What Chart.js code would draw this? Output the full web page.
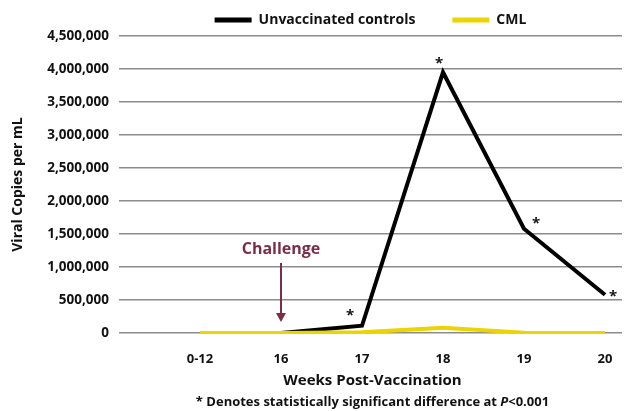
<!DOCTYPE html>
<html>
<head>
<meta charset="utf-8">
<script src="https://cdn.jsdelivr.net/npm/chart.js@4.4.1/dist/chart.umd.min.js"></script>
<style>
  html, body { margin: 0; padding: 0; background: #fff; }
  #wrap { width: 624px; height: 411px; }
</style>
</head>
<body>
<div id="wrap"><canvas id="chart" width="624" height="411"></canvas></div>
<script>
const weekLabels = ['0-12', '16', '17', '18', '19', '20'];
const controlValues = [0, 0, 110000, 3950000, 1580000, 580000];
const cmlValues = [0, 0, 10000, 80000, 5000, 0];
const yTicks = [0, 500000, 1000000, 1500000, 2000000, 2500000, 3000000, 3500000, 4000000, 4500000];
const starIndexes = [2, 3, 4, 5]; // points marked with an asterisk

const FONT = "'Open Sans', sans-serif";
const BLACK = '#000000';
const YELLOW = '#ebd400';
const MAROON = '#7a2d48';

// draws the legend, asterisks, challenge arrow and bottom titles
const extras = {
    id: 'extras',
    afterDraw(chart) {
        const ctx = chart.ctx;
        const area = chart.chartArea;
        const xs = chart.scales.x;
        const ys = chart.scales.y;
        const midX = (area.left + area.right) / 2;
        ctx.save();

        // legend
        ctx.font = 'bold 14px ' + FONT;
        ctx.textBaseline = 'middle';
        ctx.textAlign = 'left';
        const sets = chart.data.datasets;
        const boxW = 37, gap = 7, itemGap = 37;
        let total = 0;
        sets.forEach((ds, i) => {
            total += boxW + gap + ctx.measureText(ds.label).width;
            if (i < sets.length - 1) total += itemGap;
        });
        let lx = midX - total / 2;
        const ly = 20;
        sets.forEach(ds => {
            ctx.fillStyle = ds.borderColor;
            ctx.fillRect(lx, ly - 2.5, boxW, 5);
            lx += boxW + gap;
            ctx.fillStyle = '#111';
            ctx.fillText(ds.label, lx, ly);
            lx += ctx.measureText(ds.label).width + itemGap;
        });

        // asterisks
        const offsets = { 2: [-12, -14], 3: [-4, -12], 4: [12, -9], 5: [8, -2] };
        const meta = chart.getDatasetMeta(0);
        ctx.font = 'bold 15px ' + FONT;
        ctx.textAlign = 'center';
        ctx.textBaseline = 'alphabetic';
        ctx.fillStyle = '#111';
        starIndexes.forEach(i => {
            const p = meta.data[i];
            const [dx, dy] = offsets[i];
            ctx.fillText('*', p.x + dx, p.y + dy + 8);
        });

        // challenge arrow at week 16
        const cx = xs.getPixelForValue(1);
        const base = ys.getPixelForValue(0);
        ctx.fillStyle = MAROON;
        ctx.strokeStyle = MAROON;
        ctx.font = 'bold 16px ' + FONT;
        ctx.textBaseline = 'middle';
        ctx.fillText('Challenge', cx, base - 84);
        ctx.lineWidth = 2;
        ctx.beginPath();
        ctx.moveTo(cx, base - 70);
        ctx.lineTo(cx, base - 18);
        ctx.stroke();
        ctx.beginPath();
        ctx.moveTo(cx - 5, base - 20);
        ctx.lineTo(cx + 5, base - 20);
        ctx.lineTo(cx, base - 11);
        ctx.closePath();
        ctx.fill();

        // x title and footnote
        ctx.fillStyle = '#111';
        ctx.font = 'bold 15px ' + FONT;
        ctx.fillText('Weeks Post-Vaccination', midX + 2, 381);

        const partA = '* Denotes statistically significant difference at ';
        const partB = 'P';
        const partC = '<0.001';
        const reg = 'bold 13px ' + FONT;
        const ital = 'italic bold 13px ' + FONT;
        ctx.font = reg;
        const wA = ctx.measureText(partA).width;
        const wC = ctx.measureText(partC).width;
        ctx.font = ital;
        const wB = ctx.measureText(partB).width;
        let fx = midX + 2 - (wA + wB + wC) / 2;
        const fy = 402;
        ctx.textAlign = 'left';
        ctx.font = reg;
        ctx.fillText(partA, fx, fy);
        fx += wA;
        ctx.font = ital;
        ctx.fillText(partB, fx, fy);
        fx += wB;
        ctx.font = reg;
        ctx.fillText(partC, fx, fy);

        ctx.restore();
    }
};

const ctx = document.getElementById('chart').getContext('2d');
new Chart(ctx, {
    type: 'line',
    data: {
        datasets: [
            {
                label: 'Unvaccinated controls',
                data: weekLabels.map((w, i) => ({ x: i, y: controlValues[i] })),
                borderColor: BLACK,
                backgroundColor: BLACK,
                borderWidth: 4,
                pointRadius: 0,
                tension: 0,
                order: 1
            },
            {
                label: 'CML',
                data: weekLabels.map((w, i) => ({ x: i, y: cmlValues[i] })),
                borderColor: YELLOW,
                backgroundColor: YELLOW,
                borderWidth: 4,
                pointRadius: 0,
                tension: 0,
                order: 0
            }
        ]
    },
    options: {
        responsive: false,
        animation: false,
        devicePixelRatio: 1,
        layout: { padding: { top: 36, right: 2, left: 0, bottom: 0 } },
        plugins: {
            legend: { display: false },
            tooltip: { enabled: false }
        },
        scales: {
            x: {
                type: 'linear',
                min: -1,
                max: 5.21,
                afterBuildTicks: axis => {
                    axis.ticks = weekLabels.map((w, i) => ({ value: i }));
                },
                afterFit: axis => { axis.height = 78; },
                ticks: {
                    callback: v => weekLabels[v],
                    autoSkip: false,
                    maxRotation: 0,
                    padding: 10,
                    color: '#111',
                    font: { family: FONT, size: 13, weight: 'bold' }
                },
                grid: { display: false },
                border: { display: false }
            },
            y: {
                min: 0,
                max: 4500000,
                afterBuildTicks: axis => {
                    axis.ticks = yTicks.map(v => ({ value: v }));
                },
                afterFit: axis => { axis.width = 119; },
                ticks: {
                    callback: v => v.toLocaleString('en-US'),
                    padding: 10,
                    color: '#111',
                    font: { family: FONT, size: 13.5, weight: 'bold' }
                },
                grid: { color: '#8c8c8c', lineWidth: 1.5, drawTicks: false },
                border: { display: false },
                title: {
                    display: true,
                    text: 'Viral Copies per mL',
                    color: '#111',
                    padding: { top: 10, bottom: 0 },
                    font: { family: FONT, size: 14, weight: 'bold' }
                }
            }
        }
    },
    plugins: [extras]
});
</script>
</body>
</html>
